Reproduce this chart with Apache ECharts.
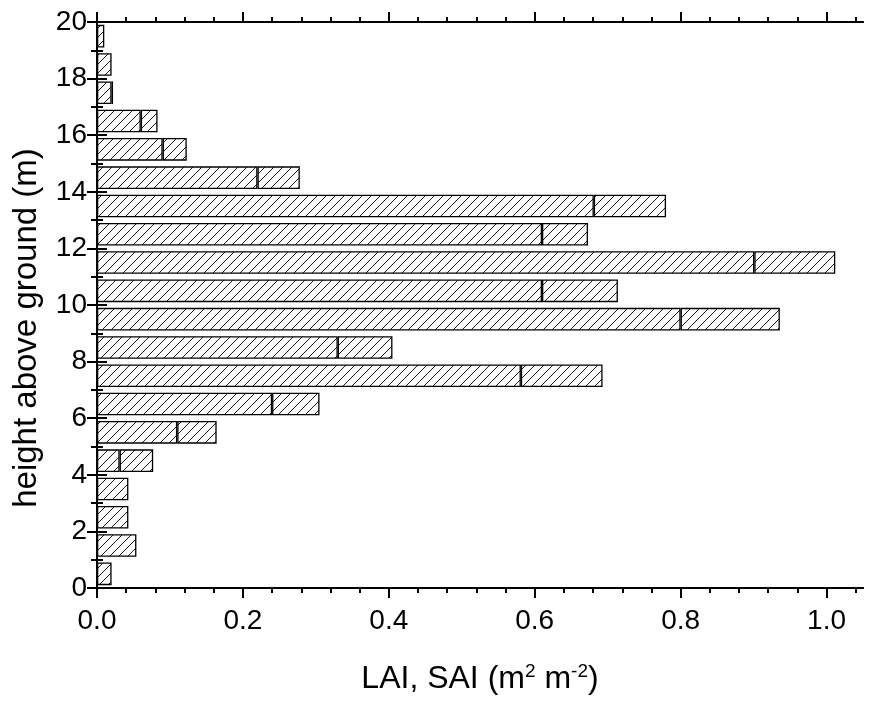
<!DOCTYPE html>
<html>
<head>
<meta charset="utf-8">
<script src="https://cdn.jsdelivr.net/npm/echarts@6/dist/echarts.min.js"></script>
<style>
html,body{margin:0;padding:0;background:#fff;}
#chart{width:869px;height:702px;}
</style>
</head>
<body>
<div id="chart"></div>
<script>
// Height bins (m): bar i covers i..i+1
const heights = ['0','1','2','3','4','5','6','7','8','9','10','11','12','13','14','15','16','17','18','19'];
// Leaf area index per layer
const lai = [0.020,0.054,0.043,0.043,0.031,0.110,0.240,0.581,0.330,0.800,0.610,0.901,0.610,0.681,0.220,0.090,0.060,0.020,0.020,0.010];
// Stem area index per layer (stacked on LAI)
const sai = [0,0,0,0,0.046,0.054,0.065,0.112,0.075,0.136,0.104,0.111,0.063,0.099,0.058,0.033,0.023,0.002,0,0];
// Tick values
const xMajorTicks = [0,0.2,0.4,0.6,0.8,1.0];
const xMinorTicks = [0.04,0.08,0.12,0.16,0.24,0.28,0.32,0.36,0.44,0.48,0.52,0.56,0.64,0.68,0.72,0.76,0.84,0.88,0.92,0.96,1.04];
const yTicks = [0,2,4,6,8,10,12,14,16,18,20];

const FONT = "'Liberation Sans', Arial, sans-serif";

function hatch() {
  const s = 9;
  const c = document.createElement('canvas');
  c.width = s; c.height = s;
  const g = c.getContext('2d');
  g.fillStyle = '#fff';
  g.fillRect(0,0,s,s);
  g.strokeStyle = '#000';
  g.lineWidth = 0.9;
  g.beginPath();
  g.moveTo(-1, s+1); g.lineTo(s+1, -1);
  g.moveTo(-1, 1); g.lineTo(1, -1);
  g.moveTo(s-1, s+1); g.lineTo(s+1, s-1);
  g.stroke();
  return {image: c, repeat: 'repeat'};
}
const pat = hatch();

const chart = echarts.init(document.getElementById('chart'), null, {renderer: 'canvas'});

const XMAX = 1.05;
const axisLine = {show: true, lineStyle: {color: '#000', width: 2}};

function xAx(pos, ticks, len, labels) {
  return {
    type: 'value', position: pos, min: 0, max: XMAX,
    axisLine: axisLine,
    splitLine: {show: false},
    axisTick: {show: true, inside: false, length: len, customValues: ticks, lineStyle: {color: '#000', width: 2}},
    axisLabel: labels ? {show: true, customValues: ticks, formatter: v => v.toFixed(1), color: '#000', fontSize: 28, fontFamily: FONT, margin: 19} : {show: false}
  };
}

const option = {
  animation: false,
  backgroundColor: '#fff',
  grid: {left: 97, right: 6, top: 22, bottom: 114, containLabel: false},
  xAxis: [
    Object.assign(xAx('bottom', xMajorTicks, 10, true), {
      name: 'LAI, SAI (m{sup|2} m{sup|-2})',
      nameLocation: 'middle', nameGap: 73,
      nameTextStyle: {color: '#000', fontSize: 32, fontFamily: FONT, lineHeight: 36,
        rich: {sup: {fontSize: 19, fontFamily: FONT, color: '#000', verticalAlign: 'bottom', padding: [0,0,16,0]}}}
    }),
    xAx('bottom', xMinorTicks, 5, false),
    xAx('top', xMajorTicks, 10, false),
    xAx('top', xMinorTicks, 5, false)
  ],
  yAxis: [
    {type: 'category', data: heights, show: false, boundaryGap: true},
    {
      type: 'value', position: 'left', min: 0, max: 20, interval: 2,
      axisLine: axisLine, splitLine: {show: false},
      axisTick: {show: true, inside: false, length: 10, lineStyle: {color: '#000', width: 2}},
      minorTick: {show: true, splitNumber: 2, length: 6, lineStyle: {color: '#000', width: 2}},
      axisLabel: {color: '#000', fontSize: 28, fontFamily: FONT, margin: 10},
      name: 'height above ground (m)', nameLocation: 'middle', nameGap: 54,
      nameTextStyle: {color: '#000', fontSize: 33, fontFamily: FONT, padding: [0, 46, 0, 0]}
    },
    {
      type: 'value', position: 'right', min: 0, max: 20, interval: 2,
      axisLine: axisLine, splitLine: {show: false},
      axisTick: {show: true, inside: false, length: 10, lineStyle: {color: '#000', width: 2}},
      minorTick: {show: true, splitNumber: 2, length: 6, lineStyle: {color: '#000', width: 2}},
      axisLabel: {show: false}
    }
  ],
  series: [
    {
      name: 'LAI', type: 'bar', stack: 'total', xAxisIndex: 0, yAxisIndex: 0,
      barWidth: '80%',
      data: lai.map(v => v > 0 ? v : null),
      itemStyle: {color: pat, borderColor: '#000', borderWidth: 1.3}
    },
    {
      name: 'SAI', type: 'bar', stack: 'total', xAxisIndex: 0, yAxisIndex: 0,
      barWidth: '80%',
      data: sai.map(v => v > 0 ? v : null),
      itemStyle: {color: pat, borderColor: '#000', borderWidth: 1.3}
    }
  ]
};
chart.setOption(option);
</script>
</body>
</html>
